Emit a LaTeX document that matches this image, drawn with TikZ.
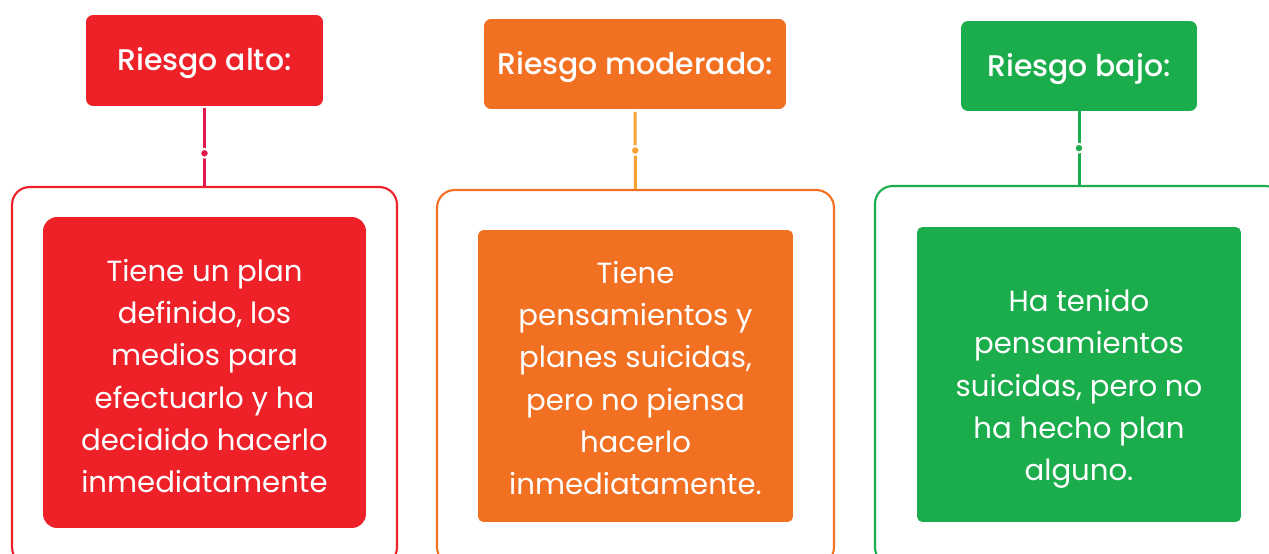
\documentclass[tikz,border=0pt]{standalone}
\usepackage{fontspec}
\setmainfont{Poppins}
\newfontfamily\titlefont{Poppins Medium}
\usepackage{xcolor}
\usetikzlibrary{positioning}

\definecolor{altoRed}{HTML}{ED2127}
\definecolor{altoLine}{HTML}{E2184C}
\definecolor{modOrange}{HTML}{F27022}
\definecolor{modLine}{HTML}{F8A233}
\definecolor{bajoGreen}{HTML}{1BAD4B}

\begin{document}
\begin{tikzpicture}[
  x=0.02cm, y=-0.02cm,
  title/.style    = {rectangle, rounded corners=4pt, text=white, align=center,
                     font=\fontsize{17}{20}\titlefont, inner sep=0pt,
                     text height=11.8pt, text depth=0pt},
  frame/.style    = {rectangle, rounded corners=10pt, fill=white, line width=1.2pt, inner sep=0pt},
  card/.style     = {rectangle, inner sep=0pt},
  cardtext/.style = {text=white, align=center, inner sep=0pt,
                     font=\fontsize{16.6}{24}\selectfont},
  conn/.style     = {line width=1.7pt},
  knot/.style     = {circle, inner sep=0pt, minimum size=5pt, draw=white, line width=1.1pt},
]
\useasboundingbox (0,0) rectangle (1269,554);
\clip (0,0) rectangle (1269,554);

%% ── Titles ───────────────────────────────────────────────────────
\node[title, fill=altoRed,   minimum width=4.74cm, minimum height=1.82cm] (alto) at (204.5,60.5) {Riesgo alto:};
\node[title, fill=modOrange, minimum width=6.04cm, minimum height=1.80cm] (mod)  at (635,64)    {Riesgo moderado:};
\node[title, fill=bajoGreen, minimum width=4.72cm, minimum height=1.80cm] (bajo) at (1079,66)   {Riesgo bajo:};

%% ── Frames ───────────────────────────────────────────────────────
\node[frame, draw=altoRed,   minimum width=7.70cm, minimum height=7.56cm] (altoframe) at (204.5,376) {};
\node[frame, draw=modOrange, minimum width=7.94cm, minimum height=7.50cm] (modframe)  at (635.5,377.5) {};
\node[frame, draw=bajoGreen, minimum width=8.16cm, minimum height=7.58cm] (bajoframe) at (1079,375.5) {};

%% ── Cards ────────────────────────────────────────────────────────
\node[card, fill=altoRed,   rounded corners=8pt, minimum width=6.46cm, minimum height=6.22cm] (altocard) at (204.5,372.5) {};
\node[card, fill=modOrange, rounded corners=3pt, minimum width=6.30cm, minimum height=5.84cm] (modcard)  at (635.5,376) {};
\node[card, fill=bajoGreen, rounded corners=3pt, minimum width=6.48cm, minimum height=5.90cm] (bajocard) at (1079,374.5) {};

\node[cardtext] (altotext) at ([yshift=-3.5*0.02cm]altocard.center)
  {Tiene un plan\\definido, los\\medios para\\efectuarlo y ha\\decidido hacerlo\\inmediatamente};
\node[cardtext] (modtext) at ([yshift=-2*0.02cm]modcard.center)
  {Tiene\\pensamientos y\\planes suicidas,\\pero no piensa\\hacerlo\\inmediatamente.};
\node[cardtext] (bajotext) at ([yshift=-14.5*0.02cm]bajocard.center)
  {Ha tenido\\pensamientos\\suicidas, pero no\\ha hecho plan\\alguno.};

%% ── Connectors ───────────────────────────────────────────────────
\draw[conn, altoLine]  ([yshift=-1pt]alto.south)  -- node[knot, fill=altoLine, pos=0.58]{} (altoframe.north);
\draw[conn, modLine]   ([yshift=-1.5pt]mod.south) -- node[knot, fill=modLine]{}           (modframe.north);
\draw[conn, bajoGreen] (bajo.south)               -- node[knot, fill=bajoGreen]{}         (bajoframe.north);

\end{tikzpicture}
\end{document}
